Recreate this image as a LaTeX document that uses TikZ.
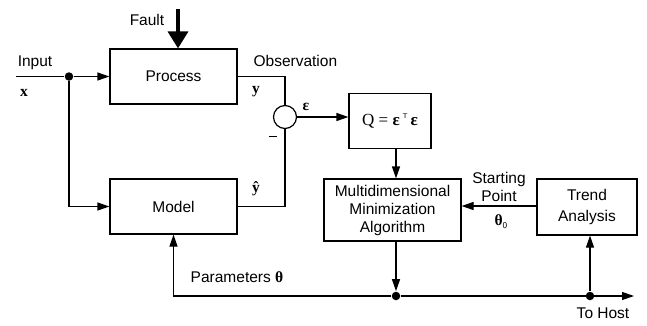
\documentclass[tikz,border=0pt]{standalone}
\usepackage{fontspec}
\setmainfont{Liberation Sans}
\newfontfamily\mserif{Liberation Serif}
\usetikzlibrary{arrows.meta}
\begin{document}
\begin{tikzpicture}[x=1pt,y=-1pt,
  font=\fontsize{15.5}{18}\selectfont,
  line width=1.2pt,
  blk/.style={draw,rectangle,inner sep=0pt,align=center},
  arr/.style={-{Triangle[length=12pt,width=8pt]}},
  dotm/.style={circle,fill,inner sep=0pt,minimum size=8.5pt},
  lbl/.style={inner sep=0pt},
  mlbl/.style={inner sep=0pt,font=\fontsize{15.5}{18}\selectfont\mserif\bfseries}]
\useasboundingbox (0,0) rectangle (647,325);
% blocks
\node[blk,minimum width=127pt,minimum height=55pt] (proc) at (173.5,76.5) {Process};
\node[blk,minimum width=127pt,minimum height=55pt] (model) at (173.5,206.5) {Model};
\node[blk,minimum width=82pt,minimum height=55pt,font=\fontsize{17}{18}\selectfont\mserif] (q) at (390,121) {Q = \textbf{ε}\,\raisebox{7pt}{\sffamily\fontsize{7}{7}\selectfont T}\,\textbf{ε}};
\node[blk,minimum width=137pt,minimum height=62pt,font=\fontsize{15.5}{18}\selectfont] (multi) at (392.5,210) {Multidimensional\\Minimization\\Algorithm};
\node[blk,minimum width=100pt,minimum height=56pt,font=\fontsize{15.5}{21}\selectfont] (trend) at (587,207) {Trend\\Analysis};
\node[draw,circle,inner sep=0pt,minimum size=23pt] (sum) at (285,117) {};
% coordinates
\coordinate (in) at (16,76.5);
\coordinate (fault) at (178,9);
\node[dotm] (d1) at (69,76.5) {};
\node[dotm] (d2) at (396,296) {};
\node[dotm] (d3) at (590,296) {};
\coordinate (host) at (634,296);
% connectors
\draw (in) -- (d1);
\draw[arr] (d1) -- (proc.west);
\draw[arr] (d1) |- (model.west);
\draw[line width=3.5pt,-{Triangle[length=17pt,width=20pt]}] (fault) -- (fault |- proc.north);
\draw (proc.east) -| (sum.north);
\draw (model.east) -| (sum.south);
\draw[arr] (sum.east) -- (q.west |- sum.east);
\draw[arr] (q.south -| d2) -- (multi.north -| d2);
\draw[arr] (multi.south -| d2) -- (d2.north);
\draw[arr] (trend.west |- 0,206) -- (multi.east |- 0,206);
\draw[arr] (d2) -| (model.south);
\draw[arr] (d2) -- (host);
\draw[arr] (d3) -- (d3 |- trend.south);
% labels
\node[lbl] at (147,20) {Fault};
\node[lbl] at (35,63) {Input};
\node[mlbl] at (24,93) {x};
\node[lbl,anchor=west] at (253,61) {Observation};
\node[mlbl] at (256,92) {y};
\node[mlbl] at (306,107) {ε};
\node[lbl] at (273,137) {\rule[0.2ex]{8pt}{1.2pt}};
\node[mlbl] at (256,189) {ŷ};
\node[lbl] at (237,277) {Parameters {\mserif\bfseries θ}};
\node[lbl,align=center,font=\fontsize{15.5}{18}\selectfont] at (499,187) {Starting\\Point};
\node[mlbl] at (501,222) {θ\raisebox{-3pt}{\sffamily\mdseries\fontsize{9}{9}\selectfont 0}};
\node[lbl] at (603,313) {To Host};
\end{tikzpicture}
\end{document}
